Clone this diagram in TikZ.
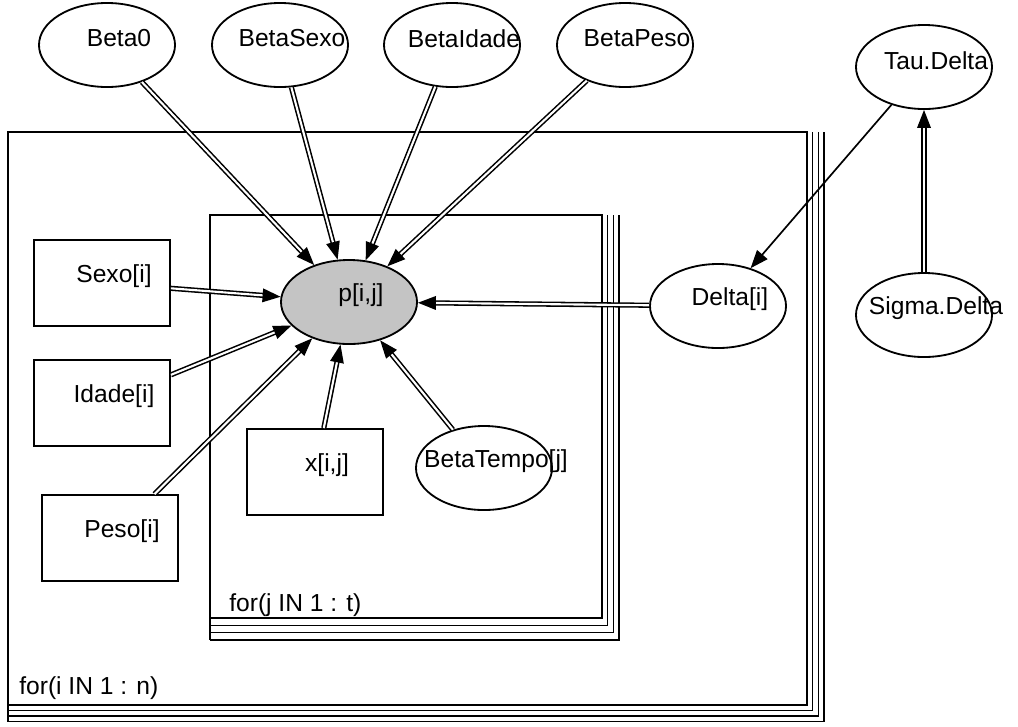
\documentclass[tikz,border=0pt]{standalone}
\usepackage{fontspec}
\setmainfont{Liberation Sans}
\usepackage{xcolor}
\usepackage{tikz}
\usetikzlibrary{arrows.meta,shapes.geometric}
\definecolor{inkc}{HTML}{000000}
\definecolor{shadec}{HTML}{C4C4C4}
\tikzset{
  ell/.style={ellipse,draw=inkc,line width=1.3pt,minimum width=3.4cm,minimum height=2.1cm,inner sep=0pt},
  box/.style={rectangle,draw=inkc,line width=1.3pt,minimum width=3.4cm,minimum height=2.15cm,inner sep=0pt},
  txt/.style={font=\fontsize{17.5}{20}\selectfont,text=inkc,inner sep=0pt},
  lab/.style={label={[txt,xshift=0.3cm,yshift=0.17cm]center:#1}},
  plate/.style={draw=inkc,line width=1pt},
  ar/.style={-{Triangle[length=0.45cm,width=0.34cm]},line width=1.2pt,inkc},
  dar/.style={-{Triangle[length=0.45cm,width=0.34cm]},line width=1.1pt,double,double distance=1.5pt,inkc}
}
\begin{document}
\begin{tikzpicture}[x=0.025cm,y=-0.025cm]
\useasboundingbox (0,0) rectangle (1018,726);
% plates
\draw[plate] (8,132) rectangle (807,705);
\draw[plate] (8,705) -- (8,722);
\foreach \k in {1,2,3}
  \draw[plate] (8,{705+5.5*\k}) -| ({807+5.7*\k},132);
\draw[plate] (210,215) rectangle (602,618);
\draw[plate] (210,618) -- (210,640);
\foreach \k in {1,2,3}
  \draw[plate] (210,{618+7.3*\k}) -| ({602+5.7*\k},215);
\node[txt,anchor=base west] (forj) at (229,611) {for(j IN 1 : t)};
\node[txt,anchor=base west] (fori) at (19,694) {for(i IN 1 : n)};
% nodes
\node[ell,lab=Beta0] (b0) at (107,45) {};
\node[ell,lab=BetaSexo] (bsexo) at (280,45) {};
\node[ell,lab=BetaIdade] (bidade) at (452,45) {};
\node[ell,lab=BetaPeso] (bpeso) at (625,45) {};
\node[ell,lab=Tau.Delta] (tau) at (924,67) {};
\node[ell,lab=Sigma.Delta] (sigma) at (924,315) {};
\node[ell,lab={Delta[i]}] (delta) at (718,306) {};
\node[ell,fill=shadec,lab={p[i,j]}] (p) at (349,302) {};
\node[ell,lab={BetaTempo[j]}] (btempo) at (484,468) {};
\node[box,lab={Sexo[i]}] (sexo) at (102,283) {};
\node[box,lab={Idade[i]}] (idade) at (102,403) {};
\node[box,lab={Peso[i]}] (peso) at (110,538) {};
\node[box,lab={x[i,j]}] (x) at (315,472) {};
% links
\foreach \s in {b0,bsexo,bidade,bpeso,sexo,idade,peso,x,btempo,delta}
  \draw[dar] (\s) -- (p);
\draw[ar] (tau) -- (delta);
\draw[dar] (sigma) -- (tau);
\end{tikzpicture}
\end{document}
